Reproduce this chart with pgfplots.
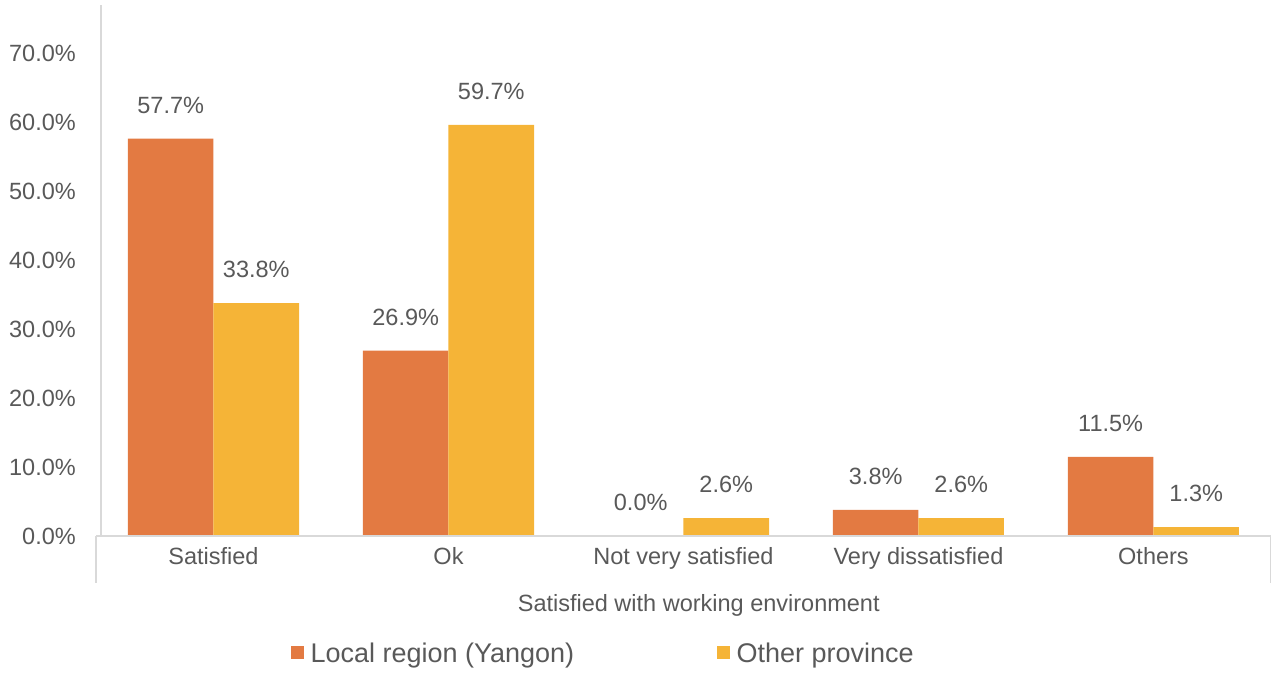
\documentclass[border=0pt]{standalone}
\usepackage{fontspec}
\setmainfont{Liberation Sans}
\usepackage{pgfplots}
\pgfplotsset{compat=1.18}
\definecolor{cOrange}{RGB}{227,122,66}
\definecolor{cYellow}{RGB}{245,180,55}
\definecolor{cText}{RGB}{89,89,89}
\definecolor{cAxis}{RGB}{217,217,217}
\begin{document}
\begin{tikzpicture}[x=1pt,y=1pt]
\useasboundingbox (0,0) rectangle (1271,672);
\begin{axis}[
  at={(96pt,136pt)}, anchor=south west,
  scale only axis, width=1175pt, height=531pt,
  ybar=0pt, bar width=0.364,
  xmin=-0.5, xmax=4.5, ymin=0, ymax=77.1,
  xtick={0,1,2,3,4},
  xticklabels={Satisfied,Ok,Not very satisfied,Very dissatisfied,Others},
  ytick={0,10,20,30,40,50,60,70},
  yticklabels={0.0\%,10.0\%,20.0\%,30.0\%,40.0\%,50.0\%,60.0\%,70.0\%},
  major tick length=0pt,
  axis line style={draw=none},
  tick label style={font=\fontsize{23.5}{27}\selectfont, text=cText},
  yticklabel style={anchor=east, inner sep=0pt, xshift=-20pt},
  xticklabel style={anchor=base, inner sep=0pt, yshift=-28pt},
  /pgf/number format/assume math mode=true,
  nodes near coords={\pgfmathprintnumber[fixed,fixed zerofill,precision=1]{\pgfplotspointmeta}\%},
  every node near coord/.append style={anchor=base, yshift=25.5pt, font=\fontsize{23.5}{27}\selectfont, text=cText, inner sep=0pt},
  clip=false,
  xlabel={Satisfied with working environment},
  xlabel style={at={(axis description cs:0.513,-0.1431)}, anchor=base, font=\fontsize{23.5}{27}\selectfont, text=cText, inner sep=0pt},
  legend style={at={(axis description cs:0.431,-0.2203)}, anchor=center, draw=none, fill=none,
    font=\fontsize{27}{30}\selectfont, text=cText, inner sep=0pt,
    nodes={inner sep=0pt, text=cText},
    /tikz/every even column/.append style={column sep=143pt}},
  legend columns=2,
  legend image code/.code={\path[#1, draw=none] (0pt,-6.5pt) rectangle (12.5pt,6.5pt); \path (19.5pt,0pt);},
]
\addplot[fill=cOrange, draw=none] coordinates {(0,57.7) (1,26.9) (2,0.0) (3,3.8) (4,11.5)};
\addplot[fill=cYellow, draw=none] coordinates {(0,33.8) (1,59.7) (2,2.6) (3,2.6) (4,1.3)};
\legend{Local region (Yangon),Other province}
\draw[cAxis, line width=1.5pt] (rel axis cs:0,0) -- (rel axis cs:1,0);
\draw[cAxis, line width=1.5pt] ([xshift=5pt]rel axis cs:0,0) -- ([xshift=5pt]rel axis cs:0,1);
\draw[cAxis, line width=1.5pt] (rel axis cs:0,0) -- ++(0pt,-47pt);
\draw[cAxis, line width=1.5pt] (rel axis cs:1,0) -- ++(0pt,-47pt);
\end{axis}
\end{tikzpicture}
\end{document}
